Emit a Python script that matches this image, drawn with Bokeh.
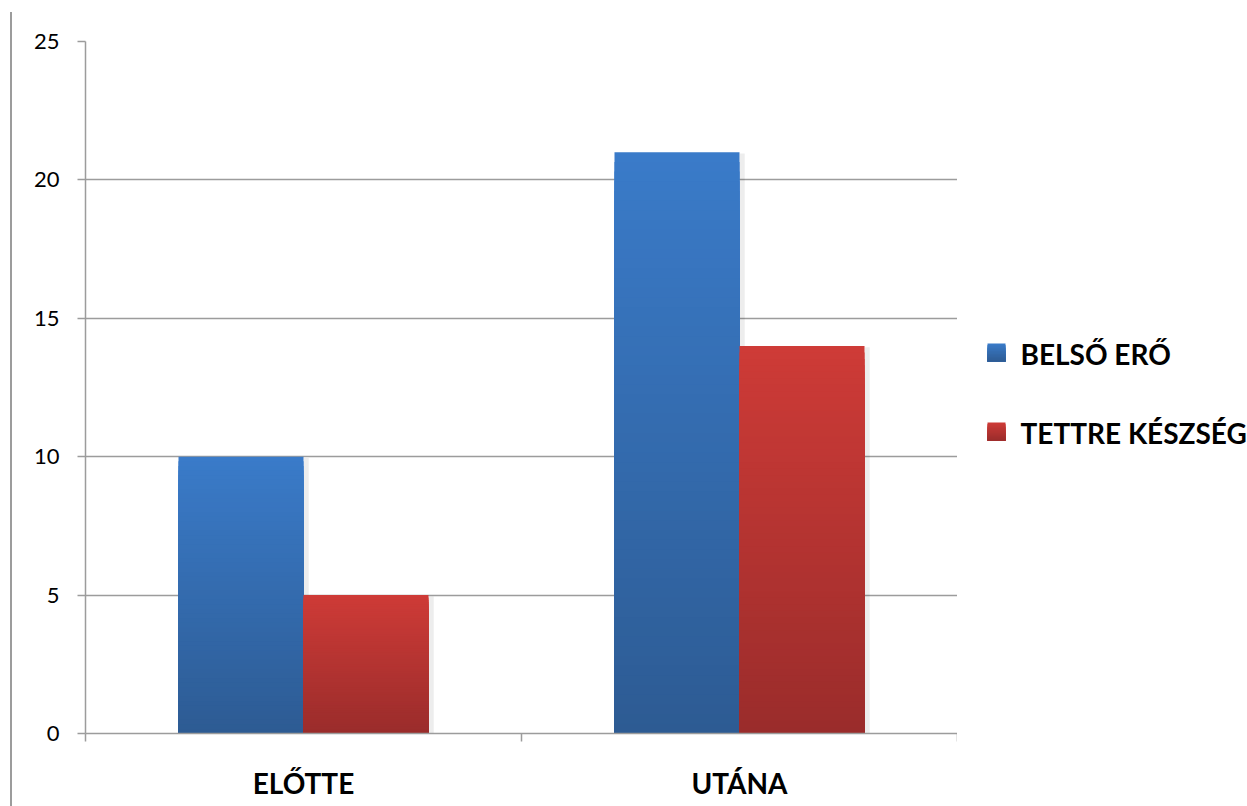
from bokeh.plotting import figure
from bokeh.layouts import row
from bokeh.models import ColumnDataSource, FixedTicker, Range1d, InlineStyleSheet
from bokeh.core.properties import value
from bokeh.embed import file_html
from bokeh.resources import INLINE

# ---- data ----
categories = ["ELŐTTE", "UTÁNA"]
series_names = ["BELSŐ ERŐ", "TETTRE KÉSZSÉG"]
belso_ero = [10, 21]
tettre_keszseg = [5, 14]
y_ticks = [0, 5, 10, 15, 20, 25]

# ---- styles ----
FONT = "Lato"
GRID = "#9C9C9C"
blue_top, blue_bot = (0x3A, 0x7B, 0xC9), (0x2D, 0x5B, 0x93)
red_top, red_bot = (0xCE, 0x3B, 0x37), (0x9A, 0x2C, 0x2B)
series_colors = [(blue_top, blue_bot), (red_top, red_bot)]
bar_offsets = [(0.2133, 0.5), (0.5, 0.7867)]
N = 60

css = InlineStyleSheet(css="""
:host::after { content: ''; position: absolute; left: 10px; top: 12px;
  width: 2px; height: 794px; background: #9C9C9C; z-index: 10; pointer-events: none; }
""")

p = figure(width=957, height=806, output_backend="svg", toolbar_location=None,
           x_range=Range1d(0, 2), y_range=Range1d(0, 25),
           min_border_left=85, min_border_right=0, min_border_top=41, min_border_bottom=73,
           stylesheets=[css])
p.outline_line_color = None
p.background_fill_color = "white"
p.border_fill_color = "white"
p.xgrid.visible = False
p.ygrid.ticker = FixedTicker(ticks=y_ticks)
p.ygrid.grid_line_color = GRID
p.ygrid.grid_line_width = 1.5

# y axis
ya = p.yaxis[0]
ya.ticker = FixedTicker(ticks=y_ticks)
ya.major_tick_out = 8
ya.major_tick_in = 0
ya.minor_tick_out = 0
ya.minor_tick_in = 0
ya.axis_line_color = GRID
ya.axis_line_width = 1.5
ya.major_tick_line_color = GRID
ya.major_tick_line_width = 1.5
ya.major_label_text_font = FONT
ya.major_label_text_font_size = "22px"
ya.major_label_text_color = "black"
ya.major_label_standoff = 18

# x axis
xa = p.xaxis[0]
xa.ticker = FixedTicker(ticks=[0.5, 1.5], minor_ticks=[0, 1, 2])
xa.major_label_overrides = {0.5: categories[0], 1.5: categories[1]}
xa.major_tick_out = 0
xa.major_tick_in = 0
xa.minor_tick_out = 8
xa.minor_tick_in = 0
xa.minor_tick_line_color = GRID
xa.minor_tick_line_width = 1.5
xa.axis_line_color = GRID
xa.axis_line_width = 1.5
xa.major_label_text_font = FONT
xa.major_label_text_font_style = "bold"
xa.major_label_text_font_size = "28px"
xa.major_label_text_color = "black"
xa.major_label_standoff = 24

def mix(c1, c2, t):
    return "#%02x%02x%02x" % tuple(int(round(a + (b - a) * t)) for a, b in zip(c1, c2))

for s, values in enumerate([belso_ero, tettre_keszseg]):
    top_c, bot_c = series_colors[s]
    lo, hi = bar_offsets[s]
    # soft shadow
    shadow = ColumnDataSource(dict(
        left=[i + hi for i in range(len(values))],
        right=[i + hi + 0.012 for i in range(len(values))],
        top=[v - 0.05 for v in values], bottom=[0] * len(values)))
    p.quad(left="left", right="right", top="top", bottom="bottom", source=shadow,
           fill_color="#000000", fill_alpha=0.07, line_color=None)
    lefts, rights, tops, cols = [], [], [], []
    for k in range(N, 0, -1):
        t = (k - 0.5) / N  # 1 near top
        for i, v in enumerate(values):
            lefts.append(i + lo)
            rights.append(i + hi)
            tops.append(v * k / N)
            cols.append(mix(bot_c, top_c, t))
    src = ColumnDataSource(dict(left=lefts, right=rights, top=tops,
                                bottom=[0] * len(tops), color=cols))
    p.quad(left="left", right="right", top="top", bottom="bottom", source=src,
           fill_color="color", line_color=None)

# ---- legend panel (frame is aligned with the main frame: y 41..733 in page pixels) ----
lg = figure(width=290, height=806, output_backend="svg", toolbar_location=None,
            x_range=Range1d(0, 290), y_range=Range1d(733, 41),
            x_axis_location=None, y_axis_location=None,
            min_border=0, outline_line_color=None)
lg.grid.visible = False
lg.border_fill_color = "white"
item_y = [352, 431]
sw_left, sw_size, text_x = 30, 18, 63
M = 12
for s, name in enumerate(series_names):
    top_c, bot_c = series_colors[s]
    yc = item_y[s]
    tops, bots, cols = [], [], []
    for k in range(M):
        tops.append(yc - sw_size / 2 + k * sw_size / M)
        bots.append(yc + sw_size / 2)
        cols.append(mix(top_c, bot_c, (k + 0.5) / M))
    lg.quad(left=[sw_left] * M, right=[sw_left + sw_size] * M, top=tops, bottom=bots,
            fill_color=cols, line_color=None)
    lg.text(x=[text_x], y=[yc + 1], text=[name], text_font=value(FONT),
            text_font_style="bold", text_font_size="28px", text_color="black",
            text_baseline="middle", text_align="left")

layout = row(p, lg, spacing=0)
open("out.html", "w").write(file_html(layout, INLINE))
